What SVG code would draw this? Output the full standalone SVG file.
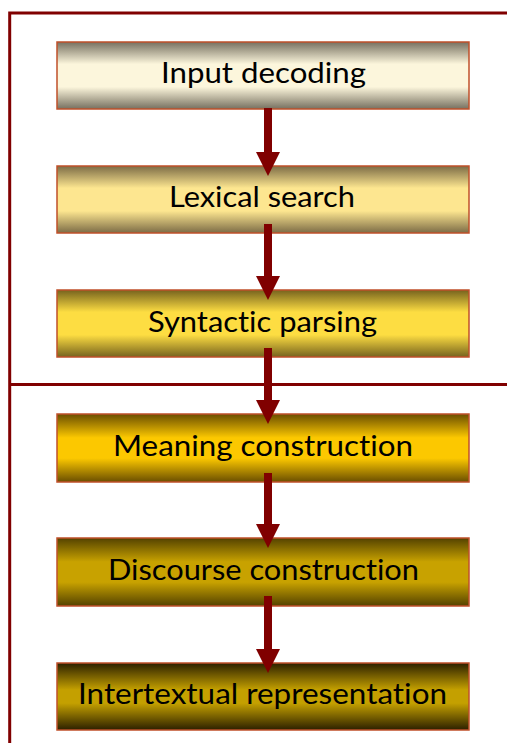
<svg xmlns="http://www.w3.org/2000/svg" width="507" height="743" viewBox="0 0 507 743">
<style>
.box{stroke:#c0502a;stroke-width:1.5}
.lbl{font-family:Lato,"Open Sans","Liberation Sans",sans-serif;font-size:29.5px;fill:#000;text-anchor:middle;font-variant-ligatures:none;font-feature-settings:"liga" 0,"clig" 0,"dlig" 0}
.frame{stroke:#800000;stroke-width:3;fill:none}
.shaft{fill:#800000}
</style>
<defs>
<linearGradient id="g1" x1="0" y1="0" x2="0" y2="1"><stop offset="0" stop-color="#767060"/><stop offset="0.33" stop-color="#fcf6dc"/><stop offset="0.67" stop-color="#fcf6dc"/><stop offset="1" stop-color="#767060"/></linearGradient>
<linearGradient id="g2" x1="0" y1="0" x2="0" y2="1"><stop offset="0" stop-color="#7c6c46"/><stop offset="0.33" stop-color="#fde690"/><stop offset="0.67" stop-color="#fde690"/><stop offset="1" stop-color="#7c6c46"/></linearGradient>
<linearGradient id="g3" x1="0" y1="0" x2="0" y2="1"><stop offset="0" stop-color="#76631e"/><stop offset="0.33" stop-color="#fddd42"/><stop offset="0.67" stop-color="#fddd42"/><stop offset="1" stop-color="#76631e"/></linearGradient>
<linearGradient id="g4" x1="0" y1="0" x2="0" y2="1"><stop offset="0" stop-color="#6a4e00"/><stop offset="0.35" stop-color="#fcc800"/><stop offset="0.65" stop-color="#fcc800"/><stop offset="1" stop-color="#6a4e00"/></linearGradient>
<linearGradient id="g5" x1="0" y1="0" x2="0" y2="1"><stop offset="0" stop-color="#544200"/><stop offset="0.35" stop-color="#c8a200"/><stop offset="0.65" stop-color="#c8a200"/><stop offset="1" stop-color="#544200"/></linearGradient>
<linearGradient id="g6" x1="0" y1="0" x2="0" y2="1"><stop offset="0" stop-color="#2c2000"/><stop offset="0.4" stop-color="#c4a000"/><stop offset="0.6" stop-color="#c4a000"/><stop offset="1" stop-color="#2c2000"/></linearGradient>
</defs>
<g id="frame">
<path class="frame" d="M9.7,743 V13 H507"/>
<line class="frame" x1="9.7" y1="384.5" x2="507" y2="384.5"/>
</g>
<g id="n1"><rect class="box" x="57" y="42" width="412" height="67" fill="url(#g1)"/><text class="lbl" x="263.5" y="83" textLength="205" lengthAdjust="spacingAndGlyphs">Input decoding</text></g>
<g id="n2"><rect class="box" x="57" y="166" width="412" height="67" fill="url(#g2)"/><text class="lbl" x="262" y="207" textLength="186" lengthAdjust="spacingAndGlyphs">Lexical search</text></g>
<g id="n3"><rect class="box" x="57" y="290" width="412" height="67" fill="url(#g3)"/><text class="lbl" x="262.5" y="332" textLength="229" lengthAdjust="spacingAndGlyphs">Syntactic parsing</text></g>
<g id="n4"><rect class="box" x="57" y="414" width="412" height="68" fill="url(#g4)"/><text class="lbl" x="263" y="456" textLength="300" lengthAdjust="spacingAndGlyphs">Meaning construction</text></g>
<g id="n5"><rect class="box" x="57" y="538" width="412" height="68" fill="url(#g5)"/><text class="lbl" x="263.5" y="580" textLength="311" lengthAdjust="spacingAndGlyphs">Discourse construction</text></g>
<g id="n6"><rect class="box" x="57" y="663" width="412" height="67" fill="url(#g6)"/><text class="lbl" x="262.5" y="704" textLength="369" lengthAdjust="spacingAndGlyphs">Intertextual representation</text></g>
<g id="connectors">
<rect class="shaft" x="264" y="108" width="8" height="45"/><polygon class="shaft" points="256,152 280,152 268,176"/>
<rect class="shaft" x="264" y="224" width="8" height="53"/><polygon class="shaft" points="256,276 280,276 268,300"/>
<rect class="shaft" x="264" y="348" width="8" height="53"/><polygon class="shaft" points="256,400 280,400 268,424"/>
<rect class="shaft" x="264" y="473" width="8" height="52"/><polygon class="shaft" points="256,524 280,524 268,548"/>
<rect class="shaft" x="264" y="596" width="8" height="54"/><polygon class="shaft" points="256,649 280,649 268,673"/>
</g>
</svg>
